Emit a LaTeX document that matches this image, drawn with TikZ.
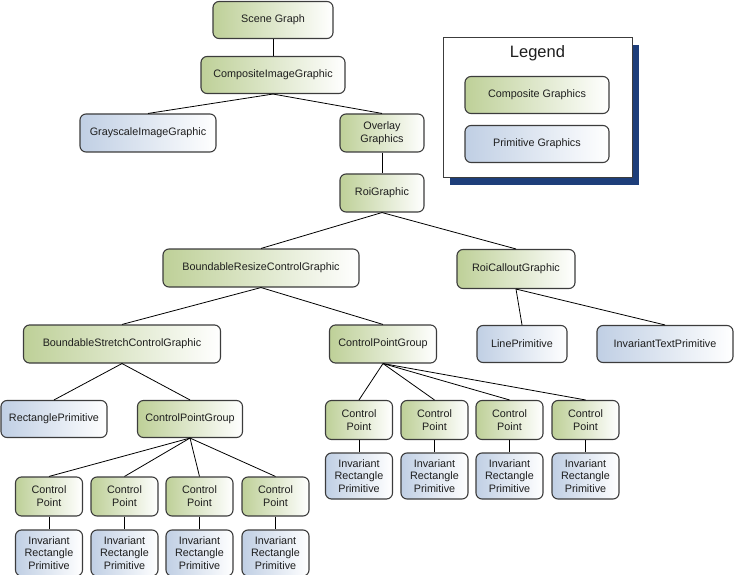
\documentclass[tikz,border=0pt]{standalone}
\usepackage{fontspec}
\setmainfont{Liberation Sans}
\begin{document}
\definecolor{boxline}{RGB}{60,60,60}
\definecolor{txt}{RGB}{30,30,30}
\definecolor{greenL}{RGB}{190,208,152}
\definecolor{blueL}{RGB}{192,207,228}
\definecolor{shadowblue}{RGB}{30,62,122}
\tikzset{
  box/.style={draw=boxline, line width=1.1pt, rounded corners=6pt, inner sep=0pt,
    align=center, text=txt, font=\fontsize{10.8}{12.8}\selectfont},
  comp/.style={box, left color=greenL, right color=white},
  prim/.style={box, left color=blueL, right color=white},
  link/.style={draw=black, line width=0.8pt},
}
\begin{tikzpicture}[x=1pt, y=-1pt]
\useasboundingbox (0,0) rectangle (734,575);

% legend panel with its drop shadow
\fill[shadowblue] (450,45) rectangle (639,185);
\draw[boxline, fill=white, line width=1pt] (443,38) rectangle (632,178);
\node[font=\fontsize{16.5}{18}\selectfont, text=txt] (legtitle) at (537.5,53) {Legend};
\node[comp, minimum width=144, minimum height=37] (legcomp) at (537,95) {Composite Graphics};
\node[prim, minimum width=144, minimum height=37] (legprim) at (537,144) {Primitive Graphics};

% upper part of the tree
\node[comp, minimum width=120, minimum height=37] (scene) at (273,20) {Scene Graph};
\node[comp, minimum width=144, minimum height=37] (cig) at (273,75) {CompositeImageGraphic};
\node[prim, minimum width=136, minimum height=38] (gig) at (148,133) {GrayscaleImageGraphic};
\node[comp, minimum width=84, minimum height=38] (ovl) at (382,133) {Overlay\\Graphics};
\node[comp, minimum width=84, minimum height=38] (roi) at (382,193) {RoiGraphic};
\node[comp, minimum width=196, minimum height=38] (brcg) at (261,268) {BoundableResizeControlGraphic};
\node[comp, minimum width=118, minimum height=39] (callout) at (516,269) {RoiCalloutGraphic};
\node[comp, minimum width=197, minimum height=38] (bscg) at (122,344) {BoundableStretchControlGraphic};
\node[comp, minimum width=107, minimum height=38] (cpgR) at (383,344) {ControlPointGroup};
\node[prim, minimum width=90, minimum height=37] (linep) at (522,344) {LinePrimitive};
\node[prim, minimum width=136, minimum height=37] (itp) at (665,344) {InvariantTextPrimitive};
\node[prim, minimum width=106, minimum height=37] (rectp) at (54,419) {RectanglePrimitive};
\node[comp, minimum width=105, minimum height=37] (cpgL) at (190,419) {ControlPointGroup};

% control points below the right group
\foreach \i/\x in {1/359,2/434.5,3/509.5,4/585.5}{
  \node[comp, minimum width=67, minimum height=39] (rcp\i) at (\x,420) {Control\\Point};
  \node[prim, minimum width=67, minimum height=46] (rirp\i) at (\x,476) {Invariant\\Rectangle\\Primitive};
  \draw[link] (cpgR.south) -- (rcp\i.north);
  \draw[link] (rcp\i.south) -- (rirp\i.north);
}

% control points below the left group
\foreach \i/\x in {1/49,2/124.5,3/199.5,4/275.5}{
  \node[comp, minimum width=67, minimum height=39] (lcp\i) at (\x,496.5) {Control\\Point};
  \node[prim, minimum width=67, minimum height=46] (lirp\i) at (\x,553) {Invariant\\Rectangle\\Primitive};
  \draw[link] (cpgL.south) -- (lcp\i.north);
  \draw[link] (lcp\i.south) -- (lirp\i.north);
}

% connectors of the upper part
\draw[link] (scene.south) -- (cig.north);
\draw[link] (cig.south) -- (gig.north);
\draw[link] (cig.south) -- (ovl.north);
\draw[link] (ovl.south) -- (roi.north);
\draw[link] (roi.south) -- (brcg.north);
\draw[link] (roi.south) -- (callout.north);
\draw[link] (brcg.south) -- (bscg.north);
\draw[link] (brcg.south) -- (cpgR.north);
\draw[link] (callout.south) -- (linep.north);
\draw[link] (callout.south) -- (itp.north);
\draw[link] (bscg.south) -- (rectp.north);
\draw[link] (bscg.south) -- (cpgL.north);
\end{tikzpicture}
\end{document}
